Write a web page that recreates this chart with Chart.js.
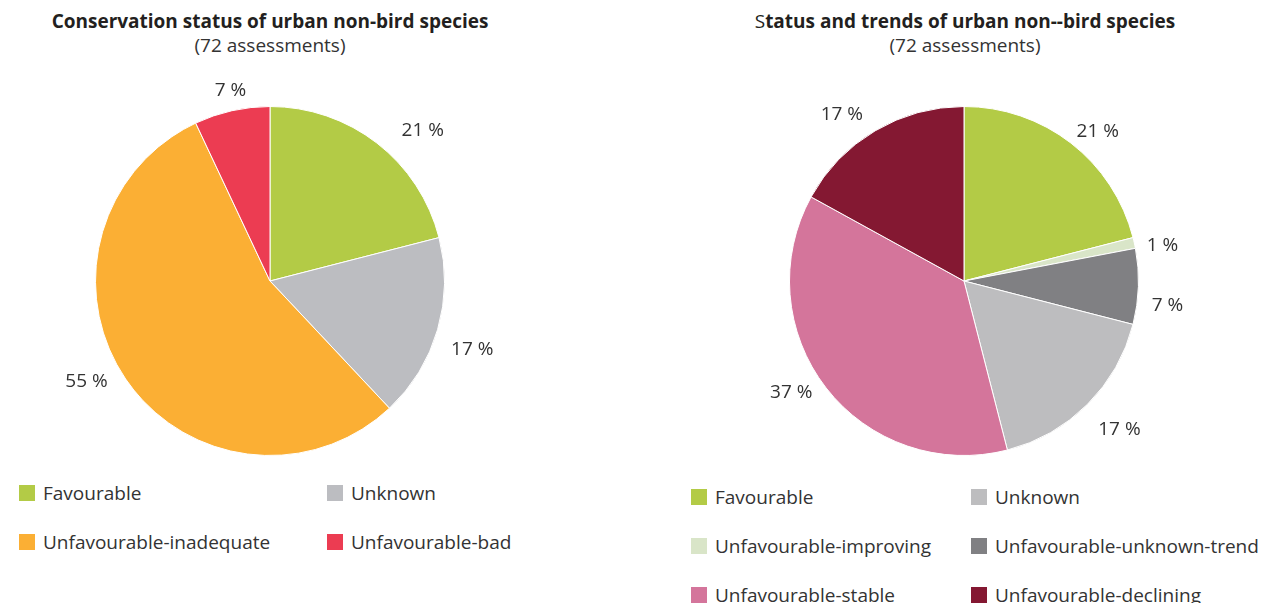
<!DOCTYPE html>
<html>
<head>
<meta charset="utf-8">
<script src="https://cdn.jsdelivr.net/npm/chart.js@4.4.1/dist/chart.umd.min.js"></script>
<style>
    body { margin: 0; background: #fff; font-family: "Open Sans", sans-serif; color: #231f20; }
    #page { position: relative; width: 1261px; height: 603px; overflow: hidden; }
    .title { position: absolute; top: 8px; width: 600px; text-align: center; }
    .title b { display: block; font-size: 19px; line-height: 26px; }
    .title span { display: block; font-size: 19px; line-height: 22px; color: #333; }
    .box { position: absolute; top: 60px; height: 420px; }
    .legend-item { position: absolute; font-size: 19px; line-height: 24px; color: #333; white-space: nowrap; }
    .legend-item i { position: absolute; left: 0; top: 4px; width: 16px; height: 16px; }
    .legend-item span { position: absolute; left: 24px; top: 0; }
</style>
</head>
<body>
<div id="page">
    <div class="title" style="left: -30px;"><b>Conservation status of urban non-bird species</b><span>(72 assessments)</span></div>
    <div class="title" style="left: 665px;"><b><span style="display:inline;font-weight:normal;font-size:19px;color:#231f20">S</span>tatus and trends of urban non--bird species</b><span>(72 assessments)</span></div>
    <div class="box" style="left: 0; width: 640px;"><canvas id="leftPie"></canvas></div>
    <div class="box" style="left: 640px; width: 621px;"><canvas id="rightPie"></canvas></div>
    <div id="leftLegend"></div>
    <div id="rightLegend"></div>
</div>
<script>
// left chart: conservation status
const statusLabels = ['Favourable', 'Unknown', 'Unfavourable-inadequate', 'Unfavourable-bad'];
const statusValues = [21, 17, 55, 7];
const statusColors = ['#b3cb46', '#bcbdc1', '#fbaf34', '#ec3c52'];

// right chart: status and trends
const trendLabels = ['Favourable', 'Unfavourable-improving', 'Unfavourable-unknown-trend', 'Unknown', 'Unfavourable-stable', 'Unfavourable-declining'];
const trendValues = [21, 1, 7, 17, 37, 17];
const trendColors = ['#b3cb46', '#d9e5c8', '#808083', '#bdbdbf', '#d4759b', '#841832'];

// legend order as in the figure (row by row, two columns)
const statusLegendOrder = [0, 1, 2, 3];
const trendLegendOrder = [0, 3, 1, 2, 4, 5];

// small hand nudges for the % labels (the original places them by hand)
const statusLabelNudge = [[25, 13], [2, 9], [-11, -18], [6, 11]];
const trendLabelNudge = [[6, 14], [-5, 8], [-5, 16], [8, 0], [-8, -18], [-16, 11]];

// draws "xx %" outside each slice
const outsideLabels = {
    id: 'outsideLabels',
    afterDatasetsDraw(chart, args, opts) {
        const ctx = chart.ctx;
        const data = chart.data.datasets[0].data;
        const nudge = opts.nudge || [];
        ctx.save();
        ctx.font = '19px "Open Sans", sans-serif';
        ctx.fillStyle = '#333';
        ctx.textAlign = 'center';
        ctx.textBaseline = 'alphabetic';
        chart.getDatasetMeta(0).data.forEach((arc, i) => {
            const mid = (arc.startAngle + arc.endAngle) / 2;
            const r = arc.outerRadius + 34;
            const n = nudge[i] || [0, 0];
            const x = arc.x + Math.cos(mid) * r + n[0];
            const y = arc.y + Math.sin(mid) * r + n[1];
            ctx.fillText(data[i] + ' %', x, y + 7);
        });
        ctx.restore();
    }
};

function makePie(id, labels, values, colors, padding, nudge) {
    const ctx = document.getElementById(id).getContext('2d');
    return new Chart(ctx, {
        type: 'pie',
        data: {
            labels: labels,
            datasets: [{
                data: values,
                backgroundColor: colors,
                borderColor: '#ffffff',
                borderWidth: 1
            }]
        },
        options: {
            responsive: true,
            maintainAspectRatio: false,
            animation: false,
            layout: { padding: padding },
            plugins: {
                legend: { display: false },
                tooltip: { enabled: false },
                outsideLabels: { nudge: nudge }
            }
        },
        plugins: [outsideLabels]
    });
}

function buildLegend(elId, labels, colors, order, x0, x1, y0, rowGap) {
    const el = document.getElementById(elId);
    el.innerHTML = order.map((idx, n) => {
        const left = n % 2 === 0 ? x0 : x1;
        const top = y0 + Math.floor(n / 2) * rowGap;
        return `<div class="legend-item" style="left:${left}px;top:${top}px;">
            <i style="background:${colors[idx]}"></i><span>${labels[idx]}</span>
        </div>`;
    }).join('');
}

makePie('leftPie', statusLabels, statusValues, statusColors, { left: 95, right: 195, top: 46, bottom: 24 }, statusLabelNudge);
makePie('rightPie', trendLabels, trendValues, trendColors, { left: 149, right: 122, top: 46, bottom: 24 }, trendLabelNudge);

buildLegend('leftLegend', statusLabels, statusColors, statusLegendOrder, 19, 327, 481, 49);
buildLegend('rightLegend', trendLabels, trendColors, trendLegendOrder, 691, 971, 485, 49);
</script>
</body>
</html>
